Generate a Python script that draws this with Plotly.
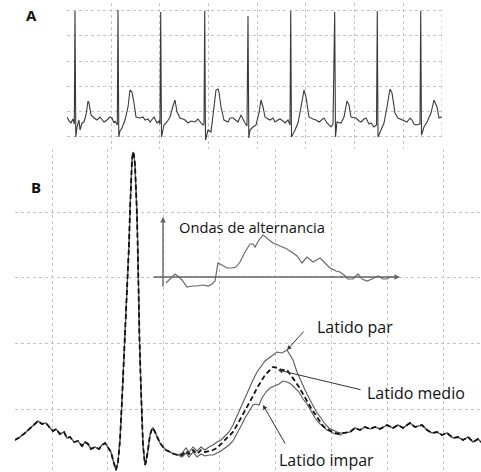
import plotly.graph_objects as go

# ---------------- Panel A: ECG strip (time in ms, amplitude in microvolts) ----------------
ecg_a_t = [1340, 1380, 1420, 1460, 1486, 1500, 1516, 1540, 1580, 1600, 1640, 1680, 1720, 1760, 1780,
           1820, 1880, 1940, 2000, 2080, 2140, 2200, 2240, 2280, 2300, 2346, 2360, 2376, 2400, 2440,
           2500, 2560, 2600, 2640, 2680, 2720, 2800, 2860, 2900, 2960, 3000, 3080, 3140, 3180, 3200,
           3214, 3230, 3280, 3340, 3400, 3460, 3500, 3540, 3600, 3660, 3700, 3760, 3820, 3900, 3960,
           4020, 4060, 4080, 4094, 4110, 4160, 4220, 4260, 4320, 4360, 4380, 4420, 4480, 4560, 4600,
           4660, 4720, 4760, 4820, 4860, 4900, 4940, 4960, 4976, 5000, 5060, 5120, 5180, 5220, 5260,
           5300, 5360, 5400, 5460, 5500, 5560, 5600, 5660, 5700, 5760, 5800, 5814, 5830, 5900, 5960,
           6020, 6080, 6120, 6180, 6260, 6320, 6380, 6440, 6480, 6540, 6620, 6660, 6694, 6710, 6740,
           6820, 6880, 6940, 6980, 7020, 7120, 7180, 7220, 7280, 7320, 7380, 7420, 7480, 7530, 7546,
           7560, 7620, 7680, 7740, 7800, 7840, 7900, 7960, 8040, 8100, 8140, 8200, 8240, 8280, 8320,
           8400, 8414, 8430, 8480, 8540, 8580, 8620, 8680, 8720, 8740, 8780, 8820, 8840]
ecg_a_v = [20, -60, -100, -20, -120, 2140, -380, -180, -40, -240, -100, -80, 60, 340, 300,
           60, 0, -40, 20, -80, -40, 20, 0, -100, -60, -140, 2160, -380, -260, -200,
           -40, 220, 560, 520, 300, 20, 0, 20, -40, -20, -80, 20, -100, -60, -120,
           2120, -380, -140, -80, 20, 240, 360, 120, 0, -20, -40, -100, -60, -80, -20,
           -100, -140, -120, 2140, -440, -240, -280, 100, 560, 580, 520, 220, -40, -80, 0,
           0, -60, -80, 60, -40, -100, -160, 2040, -400, -240, -180, -140, 100, 360, 220,
           20, -20, -40, 0, -80, -40, -20, -60, -100, -40, -140, 2140, -380, -240, -100,
           220, 560, 420, 20, -20, -40, -80, -20, 0, -100, -180, -120, 2120, -380, -80,
           -100, 20, 340, 260, 20, 0, -60, -80, -20, 0, -120, -100, -180, -140, 2140,
           -380, -240, -100, 220, 580, 500, 100, 0, -40, -60, -80, 0, -40, -120, -140,
           -120, 2140, -340, -180, -80, 0, 100, 360, 260, 220, 0, 20, 0]

# ---------------- Panel B: averaged beats (time in ms, amplitude in microvolts) ----------------
pre_t = [30, 40, 50, 60, 70, 76, 84, 92, 100, 106, 112, 120, 128, 134, 140, 148, 156, 164, 170, 176,
         182, 190, 198, 204, 210, 216, 222, 226, 232, 236, 240, 244, 248, 252, 254, 258, 260, 262, 264,
         266, 268, 270, 272, 274, 276, 277, 279, 282, 284, 286, 290, 292, 296, 300, 304, 306, 310, 314,
         320, 326, 332, 340, 348, 356]
pre_v = [0, 30, 70, 120, 170, 190, 160, 170, 120, 90, 110, 60, 80, 20, 30, -20, -10, -60, -20, -40,
         -90, -70, -90, -50, -30, -70, -120, -200, -300, -220, 0, 400, 850, 1250, 1450, 1950, 2300, 2600, 2800,
         2880, 2850, 2750, 2500, 2250, 1800, 1400, 1000, 500, 200, -50, -250, -220, -100, 50, 110, 120, 80, 30,
         -30, -70, -100, -120, -140, -150]

t_wave_t = [364, 372, 378, 386, 394, 402, 410, 418, 426, 434, 442, 450, 458, 466, 474, 482, 490, 498,
            506, 514, 522, 530, 538, 546, 554, 564, 574, 580, 586, 594, 602, 610, 618, 626, 634, 642,
            650, 658, 666, 674, 682]
par_v = [-130, -80, -120, -70, -110, -70, -100, -70, -50, -20, 0, 40, 80, 150, 240, 340, 430, 520,
         600, 680, 740, 790, 820, 850, 880, 870, 900, 850, 800, 680, 580, 500, 420, 350, 270, 220,
         160, 120, 100, 80, 70]

medio_t = [364, 372, 378, 386, 394, 402, 410, 418, 426, 434, 442, 450, 458, 466, 474, 482, 490, 498,
           506, 514, 522, 530, 538, 546, 554, 564, 574, 582, 590, 598, 606, 614, 622, 630, 638, 646,
           654, 662, 670, 682]
medio_v = [-150, -110, -140, -100, -140, -100, -120, -110, -100, -80, -40, 0, 40, 80, 150, 220, 300, 370,
           440, 520, 590, 650, 690, 730, 720, 700, 700, 650, 590, 530, 460, 380, 320, 260, 200, 140,
           110, 90, 70, 60]

impar_t = [364, 372, 378, 386, 394, 402, 410, 418, 426, 434, 442, 450, 458, 466, 474, 482, 490, 498,
           506, 512, 518, 524, 532, 540, 548, 558, 566, 574, 582, 590, 598, 606, 614, 622, 630, 638,
           646, 654, 662, 670, 682]
impar_v = [-170, -130, -170, -120, -170, -140, -160, -150, -150, -130, -110, -80, -50, -10, 60, 140, 220, 290,
           350, 360, 350, 420, 480, 520, 540, 560, 590, 580, 560, 520, 480, 410, 360, 290, 220, 170,
           130, 100, 80, 60, 50]

post_t = [686, 700, 710, 720, 730, 740, 750, 760, 774, 786, 796, 806, 820, 830, 844, 854, 864, 874,
          884, 894, 906, 916, 926, 936, 946, 956, 962]
post_v = [70, 80, 120, 100, 130, 110, 130, 110, 150, 120, 150, 120, 170, 130, 150, 100, 70, 80,
          50, 70, 20, 30, 0, 30, -20, 10, -20]

# ---------------- Inset: alternans wave (difference, microvolts) ----------------
alt_t = [332, 340, 350, 358, 364, 374, 384, 394, 406, 416, 424, 430, 436, 444, 454, 464, 472, 480,
         490, 500, 506, 510, 518, 526, 536, 546, 560, 574, 586, 594, 604, 614, 626, 640, 652, 660,
         672, 680, 688, 696, 706, 716, 724, 734, 744, 756, 766, 774, 780, 786]
alt_v = [-30, -10, 15, 0, -15, -50, -45, -45, -40, -45, -35, -20, 70, 60, 45, 45, 50, 75,
         125, 165, 165, 150, 185, 210, 190, 170, 155, 140, 120, 105, 70, 100, 75, 95, 65, 45,
         30, 25, 10, -10, -10, 15, -10, -20, -10, 5, -10, -10, 0, 0]

labels = ["Latido par", "Latido medio", "Latido impar"]
inset_title = "Ondas de alternancia"

W, H = 481, 472
FONT = "Open Sans"
GRID = "#c4c4c4"

fig = go.Figure()

# Panel A
fig.add_trace(go.Scatter(x=ecg_a_t, y=ecg_a_v, mode="lines", xaxis="x", yaxis="y",
                         line=dict(color="#3a3a3a", width=1.1), hoverinfo="skip"))

# Panel B
par_t_full = pre_t + t_wave_t + post_t
par_v_full = pre_v + par_v + post_v
imp_t_full = pre_t + impar_t + post_t
imp_v_full = pre_v + impar_v + post_v
med_t_full = pre_t + medio_t + post_t
med_v_full = pre_v + medio_v + post_v

fig.add_trace(go.Scatter(x=par_t_full, y=par_v_full, mode="lines", xaxis="x2", yaxis="y2",
                         line=dict(color="#5a5a5a", width=1.1), hoverinfo="skip"))
fig.add_trace(go.Scatter(x=imp_t_full, y=imp_v_full, mode="lines", xaxis="x2", yaxis="y2",
                         line=dict(color="#5a5a5a", width=1.1), hoverinfo="skip"))
fig.add_trace(go.Scatter(x=med_t_full, y=med_v_full, mode="lines", xaxis="x2", yaxis="y2",
                         line=dict(color="#111111", width=1.8, dash="5px,3px"), hoverinfo="skip"))

# Inset
fig.add_trace(go.Scatter(x=alt_t, y=alt_v, mode="lines", xaxis="x3", yaxis="y3",
                         line=dict(color="#6a6a6a", width=1.2), hoverinfo="skip"))

xa_dom = [67 / W, 442 / W]
ya_dom = [1 - 149 / H, 1 - 3 / H]
xb_dom = [15 / W, 1.0]
yb_dom = [0.0, 1 - 149 / H]
yi_dom = [1 - 295 / H, 1 - 215 / H]

grid_common = dict(showgrid=True, gridcolor=GRID, gridwidth=1, griddash="dot",
                   zeroline=False, showticklabels=False, ticks="", showline=False)

fig.update_layout(
    width=W, height=H,
    margin=dict(l=0, r=0, t=0, b=0),
    paper_bgcolor="white", plot_bgcolor="rgba(0,0,0,0)",
    showlegend=False,
    font=dict(family=FONT, size=14, color="#111"),
    xaxis=dict(domain=xa_dom, range=[1340, 8840], anchor="y", tick0=2220, dtick=973.33, **grid_common),
    yaxis=dict(domain=ya_dom, range=[-620, 2300], anchor="x", tick0=130, dtick=504, **grid_common),
    xaxis2=dict(domain=xb_dom, range=[30, 962], anchor="y2", tick0=104, dtick=111.8, **grid_common),
    yaxis2=dict(domain=yb_dom, range=[-320, 2910], anchor="x2", tick0=309, dtick=657, **grid_common),
    xaxis3=dict(domain=xb_dom, range=[30, 962], anchor="y3", visible=False, showgrid=False),
    yaxis3=dict(domain=yi_dom, range=[-90, 310], anchor="x3", visible=False, showgrid=False),
)

# right border of panel A
fig.add_shape(type="line", xref="x", yref="y", x0=8840, x1=8840, y0=-374, y1=2146,
              line=dict(color=GRID, width=1, dash="dot"))

ann = []
# panel letters
ann.append(dict(text="<b>A</b>", xref="paper", yref="paper", x=31 / W, y=1 - 15 / H,
                xanchor="center", yanchor="middle",
                showarrow=False, font=dict(size=15, family=FONT, color="#111")))
ann.append(dict(text="<b>B</b>", xref="paper", yref="paper", x=36 / W, y=1 - 187 / H,
                xanchor="center", yanchor="middle",
                showarrow=False, font=dict(size=15, family=FONT, color="#111")))
# inset axes
ann.append(dict(text="", xref="x3", yref="y3", axref="x3", ayref="y3", x=800, y=0, ax=304, ay=0,
                showarrow=True, arrowhead=2, arrowsize=0.8, arrowwidth=1.4, arrowcolor="#666"))
ann.append(dict(text="", xref="x3", yref="y3", axref="x3", ayref="y3", x=326, y=300, ax=326, ay=-55,
                showarrow=True, arrowhead=2, arrowsize=0.8, arrowwidth=1.4, arrowcolor="#666"))
ann.append(dict(text=inset_title, xref="x3", yref="y3", x=354, y=250, xanchor="left", yanchor="middle",
                showarrow=False, font=dict(size=14.7, family=FONT, color="#111")))
# beat labels
ann.append(dict(text=labels[0], xref="x2", yref="y2", x=630, y=1130, xanchor="left", yanchor="middle",
                showarrow=False, font=dict(size=16, family=FONT, color="#111")))
ann.append(dict(text=labels[1], xref="x2", yref="y2", x=730, y=470, xanchor="left", yanchor="middle",
                showarrow=False, font=dict(size=16, family=FONT, color="#111")))
ann.append(dict(text=labels[2], xref="x2", yref="y2", x=554, y=-200, xanchor="left", yanchor="middle",
                showarrow=False, font=dict(size=16, family=FONT, color="#111")))
# pointer arrows
for hx, hy, tx, ty in [(574, 900, 610, 1100), (556, 700, 724, 500), (526, 350, 572, -50)]:
    ann.append(dict(text="", xref="x2", yref="y2", axref="x2", ayref="y2", x=hx, y=hy, ax=tx, ay=ty,
                    showarrow=True, arrowhead=2, arrowsize=0.9, arrowwidth=1, arrowcolor="#333"))

fig.update_layout(annotations=ann)

fig.write_html(
    "out.html",
    config={"displayModeBar": False},
    post_script=("document.documentElement.style.margin='0';document.body.style.margin='0';"
                 "document.body.style.overflow='hidden';document.documentElement.style.overflow='hidden';"),
)
